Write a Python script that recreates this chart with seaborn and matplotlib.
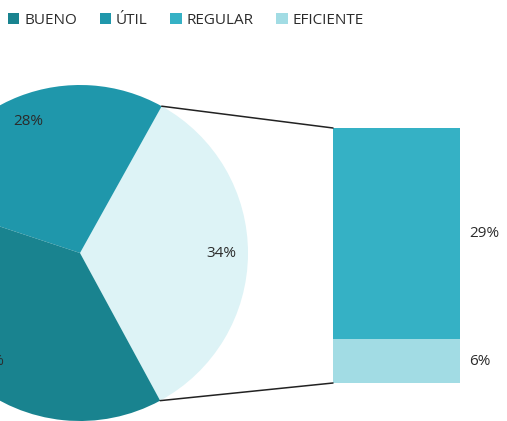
import numpy as np
import pandas as pd
import seaborn as sns
import matplotlib.pyplot as plt
from matplotlib.patches import Patch, ConnectionPatch

# data
pie_labels = ["OTROS", "ÚTIL", "BUENO"]
pie_values = [34, 28, 38]
bar_labels = ["EFICIENTE", "REGULAR"]
bar_values = [6, 29]
legend_labels = ["BUENO", "ÚTIL", "REGULAR", "EFICIENTE"]

colors = {
    "BUENO": "#19838f",
    "ÚTIL": "#1f97ab",
    "REGULAR": "#35b1c5",
    "EFICIENTE": "#a2dce4",
    "OTROS": "#ddf3f6",
}
txt = "#2b2b2b"

sns.set_theme(style="white")
plt.rcParams["font.family"] = ["Open Sans", "DejaVu Sans"]

W, H = 507, 421
fig = plt.figure(figsize=(W / 100, H / 100), dpi=100)

# pie (pixel-based layout, y up)
ax = fig.add_axes([0, 0, 1, 1])
wedges, texts, autotexts = ax.pie(
    pie_values,
    colors=[colors[k] for k in pie_labels],
    center=(80, 168), radius=168,
    startangle=-61.5, counterclock=True,
    autopct="%d%%", pctdistance=0.84,
    textprops=dict(color=txt, fontsize=11),
    wedgeprops=dict(linewidth=0),
)
ax.set_xlim(0, W)
ax.set_ylim(0, H)
ax.set_aspect("equal")
ax.axis("off")

# stacked bar
bax = fig.add_axes([333 / W, 38 / H, 127 / W, 255 / H])
df_tot = pd.DataFrame({"g": ["a"], "v": [sum(bar_values)]})
df_low = pd.DataFrame({"g": ["a"], "v": [bar_values[0]]})
sns.barplot(data=df_tot, x="g", y="v", color=colors["REGULAR"], width=1,
            saturation=1, ax=bax, linewidth=0)
sns.barplot(data=df_low, x="g", y="v", color=colors["EFICIENTE"], width=1,
            saturation=1, ax=bax, linewidth=0)
bax.set_xlim(-0.5, 0.5)
bax.set_ylim(0, sum(bar_values))
bax.axis("off")

bottom = 0
for lab, v in zip(bar_labels, bar_values):
    bax.text(1.07, bottom + v / 2, f"{v}%", transform=bax.get_yaxis_transform(),
             ha="left", va="center", color=txt, fontsize=11)
    bottom += v

# connector lines
w = wedges[0]
cx, cy = w.center
for ang, yb in [(w.theta2, sum(bar_values)), (w.theta1, 0)]:
    p = (cx + w.r * np.cos(np.radians(ang)), cy + w.r * np.sin(np.radians(ang)))
    con = ConnectionPatch(xyA=p, coordsA=ax.transData, xyB=(-0.5, yb), coordsB=bax.transData,
                          color="#222222", lw=1.1)
    fig.add_artist(con)

# legend
handles = [Patch(facecolor=colors[k], edgecolor="none") for k in legend_labels]
fig.legend(handles, legend_labels, loc="upper left", bbox_to_anchor=(8 / W, 1 - 13 / H),
           ncol=4, frameon=False, handlelength=0.75, handleheight=0.75, handletextpad=0.3,
           columnspacing=1.5, borderpad=0, borderaxespad=0, fontsize=11, labelcolor=txt)

fig.savefig("out.png", dpi=100)
